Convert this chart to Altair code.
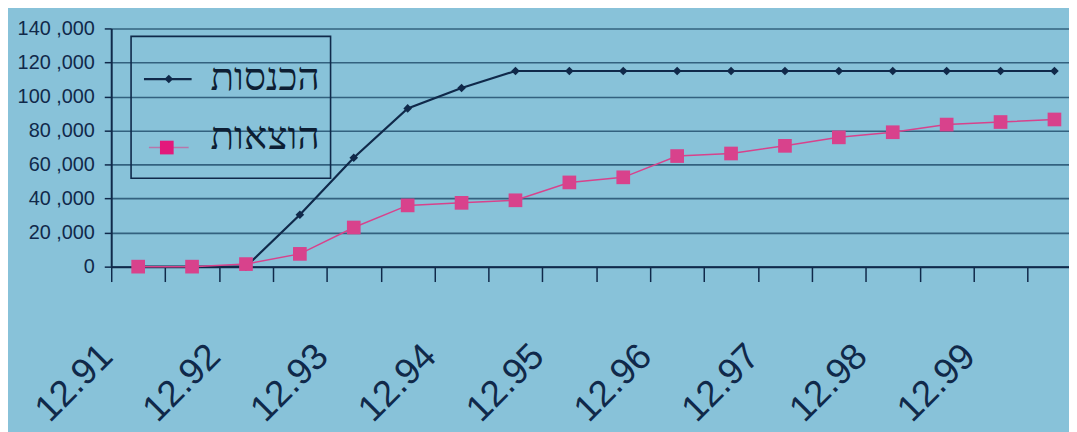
import json
import altair as alt
import pandas as pd

# ---- data ----
tick_labels = ["12.91", "12.92", "12.93", "12.94", "12.95", "12.96", "12.97", "12.98", "12.99"]
point_index = list(range(18))
income = [0, 0, 0, 30500, 64000, 93000, 105000, 115000, 115000, 115000,
          115000, 115000, 115000, 115000, 115000, 115000, 115000, 115000]
expenses = [0, 0, 1500, 7500, 23000, 36000, 37500, 39000, 49500, 52500,
            65000, 66500, 71000, 76000, 79000, 83500, 85000, 86500]
series_names = ["הכנסות", "הוצאות"]
y_ticks = [0, 20000, 40000, 60000, 80000, 100000, 120000, 140000]

NAVY = "#10294a"
PINK = "#e3197b"
PINK_LINE = "#d8428c"
BG = "#88c2d9"
GRID = "#24506e"

rows = []
for i, v in zip(point_index, income):
    rows.append({"i": i, "value": v, "series": series_names[0]})
for i, v in zip(point_index, expenses):
    rows.append({"i": i, "value": v, "series": series_names[1]})
df = pd.DataFrame(rows)

# tick positions at category boundaries, labels every second boundary
tick_vals = [-0.5 + k for k in range(18)]
lab_arr = []
for k in range(18):
    lab_arr.append(tick_labels[k // 2] if k % 2 == 0 else "")
label_expr = json.dumps(lab_arr, ensure_ascii=False) + "[round(datum.value + 0.5)]"

x_enc = alt.X(
    "i:Q",
    scale=alt.Scale(domain=[-0.5, 17.27], nice=False, zero=False),
    axis=alt.Axis(
        values=tick_vals,
        tickCount=40,
        labelExpr=label_expr,
        labelAngle=-45,
        labelAlign="right",
        labelBaseline="alphabetic",
        labelFont="Liberation Sans",
        labelFontSize=37,
        labelColor=NAVY,
        labelPadding=77,
        labelOffset=3,
        labelOverlap=False,
        labelFlush=False,
        labelBound=False,
        tickSize=15,
        tickColor=NAVY,
        tickWidth=1.5,
        domainColor=NAVY,
        domainWidth=2,
        grid=False,
        title=None,
    ),
)
y_enc = alt.Y(
    "value:Q",
    scale=alt.Scale(domain=[0, 140000], nice=False),
    axis=alt.Axis(
        values=y_ticks,
        tickCount=20,
        labelExpr="replace(format(datum.value, ','), ',', ' ,')",
        labelFont="Liberation Sans",
        labelFontSize=20,
        labelColor=NAVY,
        labelPadding=10,
        labelOverlap=False,
        labelFlush=False,
        labelBound=False,
        tickSize=7,
        tickColor=NAVY,
        tickWidth=1.5,
        domainColor=NAVY,
        domainWidth=2,
        grid=True,
        gridColor=GRID,
        gridWidth=1.6,
        gridOpacity=0.85,
        title=None,
    ),
)

color_scale = alt.Scale(domain=series_names, range=[NAVY, PINK_LINE])

lines = alt.Chart(df).mark_line(interpolate="linear").encode(
    x=x_enc,
    y=y_enc,
    color=alt.Color("series:N", scale=color_scale, legend=None),
    strokeWidth=alt.StrokeWidth("series:N", scale=alt.Scale(domain=series_names, range=[2.2, 1.5]), legend=None),
    detail="series:N",
)

points = alt.Chart(df).mark_point(filled=True, opacity=1).encode(
    x=alt.X("i:Q"),
    y=alt.Y("value:Q"),
    color=alt.Color("series:N", scale=alt.Scale(domain=series_names, range=[NAVY, PINK]), legend=None),
    shape=alt.Shape("series:N", scale=alt.Scale(domain=series_names, range=["diamond", "square"]), legend=None),
    size=alt.Size("series:N", scale=alt.Scale(domain=series_names, range=[75, 190]), legend=None),
)

# ---- legend (drawn by hand, top-left of plot) ----
one = pd.DataFrame({"k": [0]})
leg_box = alt.Chart(one).mark_rect(fillOpacity=0, stroke=NAVY, strokeWidth=1.6).encode(
    x=alt.value(20), x2=alt.value(221), y=alt.value(8), y2=alt.value(151)
)
leg_line1 = alt.Chart(one).mark_rule(color=NAVY, strokeWidth=2.2).encode(
    x=alt.value(33), x2=alt.value(81), y=alt.value(51)
)
leg_pt1 = alt.Chart(one).mark_point(filled=True, shape="diamond", size=75, color=NAVY, opacity=1).encode(
    x=alt.value(58), y=alt.value(51)
)
leg_txt1 = alt.Chart(one).mark_text(
    text=series_names[0], align="right", baseline="alphabetic", font="Liberation Serif",
    fontSize=39, color="#0d1e33"
).encode(x=alt.value(210), y=alt.value(62))
leg_line2 = alt.Chart(one).mark_rule(color=PINK_LINE, strokeWidth=1.5, opacity=0.6).encode(
    x=alt.value(38), x2=alt.value(78), y=alt.value(120)
)
leg_pt2 = alt.Chart(one).mark_point(filled=True, shape="square", size=190, color=PINK, opacity=1).encode(
    x=alt.value(56), y=alt.value(120)
)
leg_txt2 = alt.Chart(one).mark_text(
    text=series_names[1], align="right", baseline="alphabetic", font="Liberation Serif",
    fontSize=39, color="#0d1e33"
).encode(x=alt.value(210), y=alt.value(121))

chart = alt.layer(
    lines, points, leg_box, leg_line1, leg_pt1, leg_txt1, leg_line2, leg_pt2, leg_txt2
).properties(
    width=965,
    height=240,
    autosize=alt.AutoSizeParams(type="none"),
    padding={"left": 104, "top": 19, "right": 0, "bottom": 165},
    background=BG,
).configure_view(strokeWidth=0)

chart.save("out.html", embed_options={"renderer": "svg", "actions": False})
